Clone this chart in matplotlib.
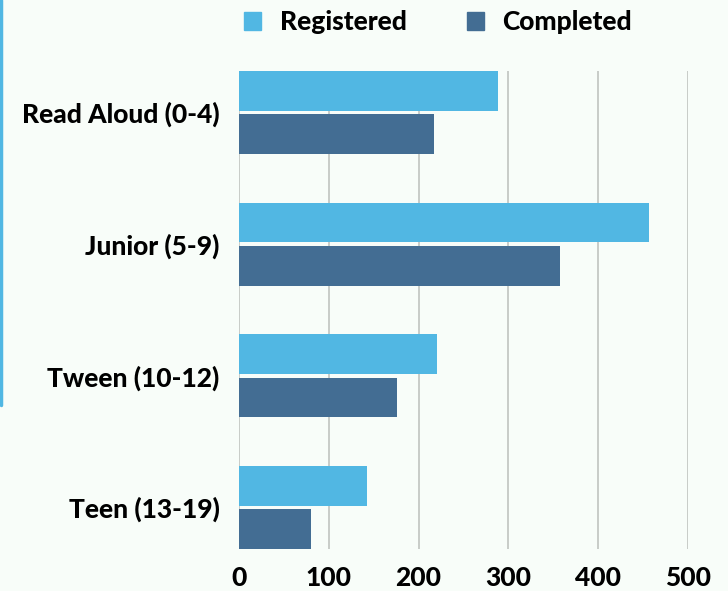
import numpy as np
import matplotlib.pyplot as plt
from matplotlib.patches import Patch
from matplotlib.lines import Line2D

plt.rcParams['font.family'] = ['Lato', 'DejaVu Sans']
plt.rcParams['font.weight'] = 900

# Data
categories = ['Read Aloud (0-4)', 'Junior (5-9)', 'Tween (10-12)', 'Teen (13-19)']
registered = [288, 457, 220, 142]
completed = [217, 357, 176, 80]
x_ticks = [0, 100, 200, 300, 400, 500]

reg_color = '#51b7e3'
comp_color = '#436d93'
bg_color = '#f8fdf9'

fig = plt.figure(figsize=(7.28, 5.91), dpi=100, facecolor=bg_color)
ax = fig.add_axes([0.3283, 0.0711, 0.6168, 0.8088], facecolor=bg_color)

y = np.arange(len(categories))
h = 0.303
off = 0.165
ax.barh(y - off, registered, height=h, color=reg_color, zorder=3)
ax.barh(y + off, completed, height=h, color=comp_color, zorder=3)

ax.set_xlim(0, 500)
ax.set_ylim(3.316, -0.316)
ax.set_xticks(x_ticks)
ax.set_yticks(y)
ax.set_yticklabels(categories)
ax.tick_params(axis='both', length=0, labelsize=19)
ax.tick_params(axis='x', pad=12)
ax.tick_params(axis='y', pad=14)
for s in ax.spines.values():
    s.set_visible(False)
ax.grid(axis='x', color='#c4c8c4', linewidth=1.3, zorder=0)
ax.set_axisbelow(True)

handles = [Patch(color=reg_color), Patch(color=comp_color)]
fig.legend(handles, ['Registered', 'Completed'], loc='center', bbox_to_anchor=(0.602, 0.962),
           ncol=2, frameon=False, fontsize=19, handlelength=0.64, handleheight=0.64,
           handletextpad=0.7, columnspacing=2.3)

# blue edge of the container on the left
fig.add_artist(Line2D([0.002, 0.002], [1.0, 1 - 405 / 591], transform=fig.transFigure,
                      color='#51b7e3', linewidth=2.5, solid_capstyle='round'))

fig.savefig('out.png', dpi=100, facecolor=bg_color)
